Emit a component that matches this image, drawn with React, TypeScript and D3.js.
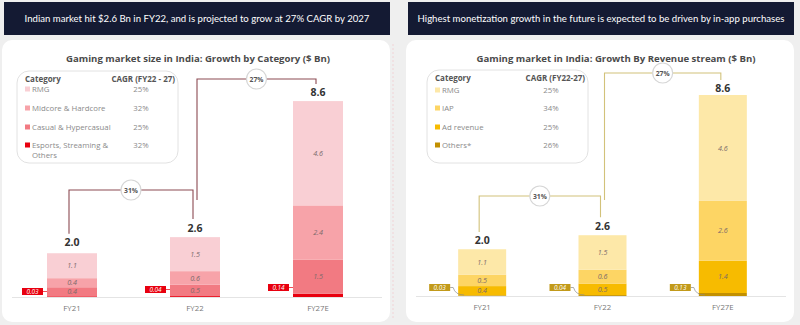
import React from "react";
import * as d3 from "d3";

const years = ["FY21", "FY22", "FY27E"];
const growthLabels = ["31%", "27%"];

// Left: by category
const catTotals = [2.0, 2.6, 8.6];
const catEsports = [0.03, 0.04, 0.14];
const catCasual = [0.4, 0.5, 1.5];
const catMidcore = [0.4, 0.6, 2.4];
const catRMG = [1.1, 1.5, 4.6];
const catNames = ["RMG", "Midcore & Hardcore", "Casual & Hypercasual", "Esports, Streaming & Others"];
const catCagr = ["25%", "32%", "25%", "32%"];

// Right: by revenue stream
const revTotals = [2.0, 2.6, 8.6];
const revOthers = [0.03, 0.04, 0.13];
const revAd = [0.4, 0.5, 1.4];
const revIAP = [0.5, 0.6, 2.6];
const revRMG = [1.1, 1.5, 4.6];
const revNames = ["RMG", "IAP", "Ad revenue", "Others*"];
const revCagr = ["25%", "34%", "25%", "26%"];

const FONT = "'Open Sans', Lato, sans-serif";
const HFONT = "Lato, 'Open Sans', sans-serif";

type PanelCfg = {
  x0: number;
  headline: string;
  title: string;
  titleX: number;
  cagrHeader: string;
  names: string[];
  cagr: string[];
  series: number[][]; // bottom -> top
  totals: number[];
  colors: string[]; // bottom -> top
  calloutColor: string;
  lineColor: string;
  xRange: [number, number];
  baseline: number;
  topY: number;
  barW: number;
  legend: { x: number; y: number; w: number; h: number; valX: number; rows: number[] };
  bracket1: { top: number };
  bracket2: { top: number; start: number };
  curvedCallout: boolean;
};

function Panel({ c }: { c: PanelCfg }) {
  const xs = d3.scalePoint<string>().domain(years).range(c.xRange).padding(0.5);
  const y = d3.scaleLinear().domain([0, 8.6]).range([c.baseline, c.topY]);
  const rows = years.map((yr, i) => {
    const o: any = { year: yr };
    c.series.forEach((s, k) => (o["k" + k] = s[i]));
    return o;
  });
  const keys = c.series.map((_, k) => "k" + k);
  const stacked = d3.stack<any>().keys(keys)(rows);
  const cx = (i: number) => xs(years[i]) as number;
  const topOf = (i: number) => y(c.totals[i]);
  const bw = c.barW;

  const b1l = cx(0) - 3;
  const b1r = cx(1) - 2;
  const b2l = cx(1) + 2;
  const b2r = cx(2) - 2;

  return (
    <g>
      {/* header */}
      <rect x={c.x0} y={2} width={386} height={33} fill="#141a33" />
      <text x={c.x0 + 193} y={22} textAnchor="middle" fill="#fff" fontSize={9.6} fontFamily={HFONT}>
        {c.headline}
      </text>
      {/* card */}
      <rect x={c.x0 - 2} y={40} width={388} height={282} rx={10} fill="#fff" />
      <text x={c.titleX} y={62} textAnchor="middle" fill="#4a4a4a" fontSize={9.6} fontWeight={700} fontFamily={FONT}>
        {c.title}
      </text>
      {/* legend */}
      <rect x={c.legend.x} y={c.legend.y} width={c.legend.w} height={c.legend.h} rx={12} fill="#fff" stroke="#e2e2e2" />
      <text x={c.legend.x + 8} y={c.legend.y + 11} fontSize={8} fontWeight={700} fill="#555" fontFamily={FONT}>
        Category
      </text>
      <text x={c.legend.x + c.legend.w - 3} y={c.legend.y + 11} textAnchor="end" fontSize={8} fontWeight={700} fill="#555" fontFamily={FONT}>
        {c.cagrHeader}
      </text>
      {c.names.map((n, k) => {
        const ry = c.legend.rows[k];
        const color = c.colors[c.colors.length - 1 - k];
        const parts = n === "Esports, Streaming & Others" ? ["Esports, Streaming &", "Others"] : [n];
        return (
          <g key={n}>
            <rect x={c.legend.x + 8} y={ry - 5.5} width={5} height={5} fill={color} />
            {parts.map((p, j) => (
              <text key={j} x={c.legend.x + 15} y={ry + j * 9.5} fontSize={7.8} fill="#8a8a8a" fontFamily={FONT}>
                {p}
              </text>
            ))}
            <text x={c.legend.valX} y={ry} textAnchor="middle" fontSize={7.8} fill="#8a8a8a" fontFamily={FONT}>
              {c.cagr[k]}
            </text>
          </g>
        );
      })}
      {/* baseline */}
      <line x1={c.x0 + 8} x2={c.x0 + 378} y1={c.baseline + 0.5} y2={c.baseline + 0.5} stroke="#e4e4e4" />
      {/* bars */}
      {stacked.map((layer, k) =>
        layer.map((d, i) => {
          const y0 = y(d[0]);
          const y1 = y(d[1]);
          const v = c.series[k][i];
          return (
            <g key={k + "-" + i}>
              <rect x={cx(i) - bw / 2} y={y1} width={bw} height={Math.max(0, y0 - y1)} fill={c.colors[k]} />
              {k > 0 && (
                <text
                  x={cx(i)}
                  y={(y0 + y1) / 2 + 2.6}
                  textAnchor="middle"
                  fontSize={7.2}
                  fontStyle="italic"
                  fill="#7a6a6a"
                  fontFamily={FONT}
                >
                  {v.toFixed(1)}
                </text>
              )}
            </g>
          );
        })
      )}
      {/* callouts for smallest series */}
      {years.map((yr, i) => {
        const bx = cx(i) - bw / 2;
        const w = 21;
        const h = 7;
        const boxRight = c.curvedCallout ? bx - 8 : bx - 4;
        const by = c.curvedCallout ? c.baseline - 12 : c.baseline - 9 - i * 2;
        return (
          <g key={"co" + yr}>
            {c.curvedCallout ? (
              <path
                d={`M${boxRight},${by + h / 2} L${boxRight + 3},${by + h / 2} Q${boxRight + 5},${c.baseline - 1} ${bx + 6},${c.baseline - 1}`}
                fill="none"
                stroke="#8a8a8a"
                strokeWidth={0.7}
              />
            ) : (
              <line x1={boxRight} x2={bx} y1={by + h / 2} y2={by + h / 2} stroke={c.calloutColor} strokeWidth={0.7} />
            )}
            <rect x={boxRight - w} y={by} width={w} height={h} fill={c.calloutColor} />
            <text
              x={boxRight - w / 2}
              y={by + 5.6}
              textAnchor="middle"
              fontSize={6.4}
              fontStyle="italic"
              fill="#fff"
              fontFamily={FONT}
            >
              {c.series[0][i].toFixed(2)}
            </text>
          </g>
        );
      })}
      {/* totals */}
      {years.map((yr, i) => (
        <text key={"t" + yr} x={cx(i)} y={topOf(i) - 6} textAnchor="middle" fontSize={10.5} fontWeight={700} fill="#333" fontFamily={FONT}>
          {c.totals[i].toFixed(1)}
        </text>
      ))}
      {/* x labels */}
      {years.map((yr, i) => (
        <text key={"x" + yr} x={cx(i)} y={c.baseline + 14} textAnchor="middle" fontSize={7.8} fill="#777" fontFamily={FONT}>
          {yr}
        </text>
      ))}
      {/* brackets */}
      <path
        d={`M${b1l},${topOf(0) - 18} V${c.bracket1.top} H${b1r} V${topOf(1) - 19}`}
        fill="none"
        stroke={c.lineColor}
        strokeWidth={1.1}
      />
      <path
        d={`M${b2l},${c.bracket2.start} V${c.bracket2.top} H${b2r} V${topOf(2) - 18}`}
        fill="none"
        stroke={c.lineColor}
        strokeWidth={1.1}
      />
      {[0, 1].map((j) => {
        const px = j === 0 ? (b1l + b1r) / 2 : (b2l + b2r) / 2;
        const py = j === 0 ? c.bracket1.top : c.bracket2.top;
        return (
          <g key={"g" + j}>
            <circle cx={px} cy={py} r={10} fill="#fff" stroke="#d6d6d6" strokeWidth={1.2} />
            <text x={px} y={py + 2.5} textAnchor="middle" fontSize={6.8} fontWeight={700} fill="#555" fontFamily={FONT}>
              {growthLabels[j]}
            </text>
          </g>
        );
      })}
    </g>
  );
}

const leftCfg: PanelCfg = {
  x0: 4,
  headline: "Indian market hit $2.6 Bn in FY22, and is projected to grow at 27% CAGR by 2027",
  title: "Gaming market size in India: Growth by Category ($ Bn)",
  titleX: 198,
  cagrHeader: "CAGR (FY22 - 27)",
  names: catNames,
  cagr: catCagr,
  series: [catEsports, catCasual, catMidcore, catRMG],
  totals: catTotals,
  colors: ["#e8000f", "#f27a82", "#f7a3a9", "#f9cfd4"],
  calloutColor: "#e8000f",
  lineColor: "#8c4a52",
  xRange: [10.5, 379.5],
  baseline: 297,
  topY: 102,
  barW: 50,
  legend: { x: 17, y: 71, w: 161, h: 92, valX: 141, rows: [92, 111, 130, 148] },
  bracket1: { top: 190 },
  bracket2: { top: 79, start: 200 },
  curvedCallout: false,
};

const rightCfg: PanelCfg = {
  x0: 408,
  headline: "Highest monetization growth in the future is expected to be driven by in-app purchases",
  title: "Gaming market in India: Growth By Revenue stream ($ Bn)",
  titleX: 616,
  cagrHeader: "CAGR (FY22-27)",
  names: revNames,
  cagr: revCagr,
  series: [revOthers, revAd, revIAP, revRMG],
  totals: revTotals,
  colors: ["#c29000", "#f7bb00", "#fdd564", "#fde8a8"],
  calloutColor: "#c29a1a",
  lineColor: "#d2c27a",
  xRange: [422, 783],
  baseline: 296,
  topY: 98,
  barW: 48,
  legend: { x: 427, y: 70, w: 161, h: 93, valX: 551, rows: [93, 111, 130, 148] },
  bracket1: { top: 196 },
  bracket2: { top: 73, start: 200 },
  curvedCallout: true,
};

export default function App() {
  return (
    <svg
      width={800}
      height={325}
      style={{ position: "absolute", left: 0, top: 0, background: "#efefef" }}
      fontFamily={FONT}
    >
      <rect x={0} y={0} width={800} height={325} fill="#efefef" />
      <Panel c={leftCfg} />
      <Panel c={rightCfg} />
      <line x1={393} x2={393} y1={44} y2={318} stroke="#f2cdd1" strokeDasharray="2,2" strokeWidth={0.8} />
    </svg>
  );
}
